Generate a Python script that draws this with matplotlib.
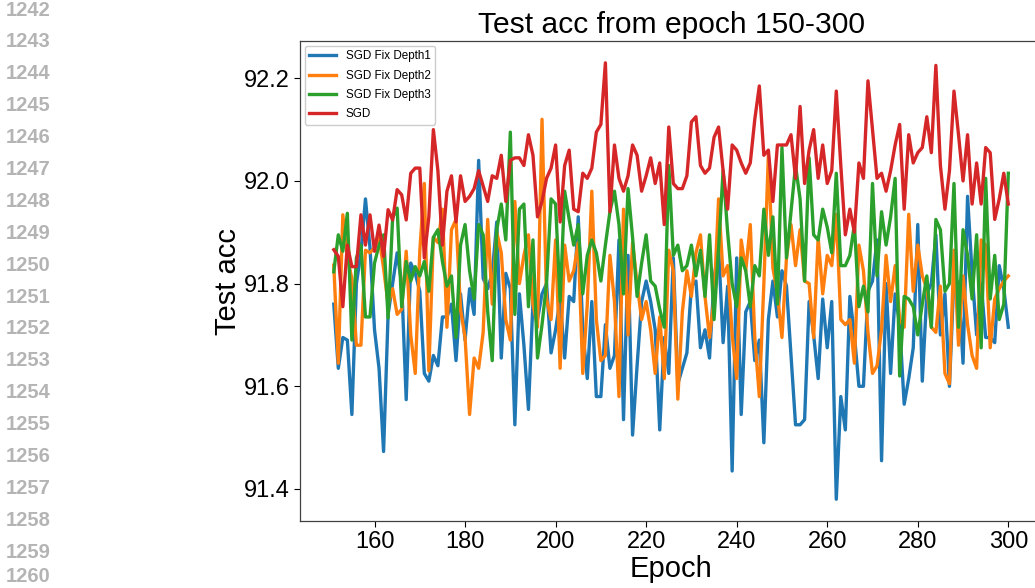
import numpy as np
import matplotlib
matplotlib.use("Agg")
import matplotlib.pyplot as plt

plt.rcParams['font.family'] = ['Liberation Sans', 'DejaVu Sans']

# ▶️ data: epochs 151-300
epochs = np.arange(151, 301)

depth1 = [
    91.76, 91.635, 91.695, 91.69, 91.545, 91.80, 91.86, 91.965, 91.87, 91.71,
    91.635, 91.473, 91.74, 91.80, 91.86, 91.80, 91.574, 91.84, 91.82, 91.785,
    91.625, 91.61, 91.66, 91.64, 91.735, 91.735, 91.76, 91.65, 91.78, 91.69,
    91.79, 91.74, 92.04, 91.81, 91.79, 91.82, 91.92, 91.655, 91.82, 91.79,
    91.525, 91.78, 91.68, 91.555, 91.765, 91.73, 91.78, 91.80, 91.665, 91.71,
    91.77, 91.655, 91.775, 91.765, 91.93, 91.71, 91.615, 91.765, 91.58, 91.58,
    91.72, 91.635, 91.66, 91.885, 91.535, 91.855, 91.505, 91.64, 91.765, 91.805,
    91.765, 91.71, 91.515, 91.695, 91.625, 91.85, 91.605, 91.635, 91.665, 91.795,
    91.805, 91.675, 91.71, 91.655, 91.81, 91.87, 91.685, 91.795, 91.435, 91.85,
    91.545, 91.745, 91.765, 91.65, 91.69, 91.49, 91.73, 91.805, 91.735, 91.825,
    91.795, 91.66, 91.525, 91.525, 91.535, 91.765, 91.70, 91.615, 91.77, 91.675,
    91.765, 91.38, 91.58, 91.515, 91.775, 91.70, 91.60, 91.60, 91.785, 91.805,
    91.885, 91.455, 91.80, 91.625, 91.78, 91.72, 91.565, 91.615, 91.675, 91.915,
    91.61, 91.78, 91.80, 91.895, 91.70, 91.78, 91.60, 91.815, 91.80, 91.645,
    91.97, 91.82, 91.70, 91.80, 91.695, 91.695, 91.685, 91.835, 91.79, 91.715,
]

depth2 = [
    91.836, 91.645, 91.934, 91.85, 91.81, 91.68, 91.68, 91.865, 91.86, 91.87,
    91.89, 91.83, 91.76, 91.79, 91.74, 91.75, 91.863, 91.70, 91.625, 91.863,
    91.995, 91.63, 91.89, 91.88, 91.945, 91.715, 91.905, 91.925, 91.75, 91.695,
    91.545, 91.655, 91.635, 91.705, 91.925, 91.76, 91.90, 91.86, 91.73, 91.69,
    91.96, 91.80, 91.855, 91.895, 91.76, 91.715, 92.12, 91.77, 91.73, 91.885,
    91.635, 91.875, 91.805, 91.825, 91.88, 91.625, 91.76, 91.98, 91.73, 91.65,
    91.66, 91.855, 91.765, 91.58, 91.945, 91.70, 91.88, 91.80, 91.73, 91.765,
    91.71, 91.625, 91.735, 91.615, 91.865, 91.825, 91.575, 91.745, 91.825, 91.775,
    91.86, 91.895, 91.775, 91.695, 91.77, 91.965, 91.815, 91.835, 91.70, 91.615,
    91.885, 91.825, 91.915, 91.695, 91.58, 91.80, 92.05, 91.83, 91.78, 91.695,
    91.85, 91.915, 91.835, 91.905, 91.805, 91.80, 91.695, 91.89, 91.78, 91.855,
    91.835, 91.935, 91.73, 91.72, 91.73, 91.645, 91.875, 91.825, 91.705, 91.625,
    91.64, 91.71, 91.855, 91.765, 91.835, 91.73, 91.715, 91.935, 91.785, 91.875,
    91.815, 91.79, 91.715, 91.705, 91.795, 91.625, 91.605, 91.865, 91.68, 91.815,
    91.72, 91.66, 91.635, 91.885, 91.875, 91.675, 91.77, 91.79, 91.805, 91.815,
]

depth3 = [
    91.823, 91.895, 91.863, 91.937, 91.69, 91.85, 91.875, 91.735, 91.735, 91.84,
    91.875, 91.895, 91.733, 91.928, 91.947, 91.755, 91.843, 91.805, 91.833, 91.815,
    91.843, 91.785, 91.89, 91.905, 91.843, 91.795, 91.815, 91.695, 91.875, 91.915,
    91.825, 91.77, 91.915, 91.895, 91.745, 91.65, 91.905, 91.955, 91.885, 92.095,
    91.74, 91.945, 91.955, 91.755, 91.885, 91.655, 91.72, 91.80, 91.965, 91.955,
    91.765, 91.98, 91.925, 91.875, 91.915, 91.78, 91.855, 91.885, 91.86, 91.805,
    91.875, 91.94, 91.98, 91.915, 91.78, 91.985, 91.89, 91.775, 91.84, 91.895,
    91.805, 91.795, 91.75, 91.715, 92.03, 91.855, 91.875, 91.825, 91.835, 91.875,
    91.815, 91.865, 91.775, 91.895, 91.73, 91.87, 92.02, 91.90, 91.80, 91.755,
    91.85, 91.825, 91.755, 91.835, 91.815, 91.945, 91.855, 91.93, 91.76, 92.065,
    91.85, 91.94, 92.03, 91.965, 91.805, 92.045, 91.895, 91.885, 91.945, 91.91,
    91.86, 92.015, 91.835, 91.835, 91.855, 91.915, 91.755, 91.795, 91.745, 91.995,
    91.815, 91.94, 91.875, 91.93, 92.005, 91.62, 91.775, 91.77, 91.755, 91.70,
    91.76, 91.815, 91.715, 91.925, 91.905, 91.785, 91.80, 91.995, 91.715, 91.905,
    91.855, 91.77, 91.895, 91.675, 92.005, 91.77, 91.855, 91.73, 91.76, 92.015,
]

sgd = [
    91.866, 91.853, 91.755, 91.875, 91.833, 91.833, 91.934, 91.875, 91.934, 91.863,
    91.914, 91.853, 91.944, 91.924, 91.983, 91.973, 91.924, 92.015, 92.025, 92.025,
    91.85, 91.93, 92.10, 92.02, 91.875, 91.98, 92.01, 91.92, 92.01, 91.96,
    91.97, 91.985, 92.02, 91.99, 91.96, 92.01, 92.005, 92.05, 91.96, 92.04,
    92.045, 92.045, 92.03, 92.09, 92.05, 91.93, 91.96, 92.005, 92.025, 92.07,
    91.92, 92.03, 92.06, 91.945, 91.94, 92.015, 92.005, 92.025, 92.095, 92.11,
    92.23, 91.94, 92.07, 92.005, 91.98, 92.01, 92.07, 92.05, 91.98, 92.01,
    92.045, 91.995, 92.035, 91.915, 92.105, 91.995, 91.985, 91.985, 92.01, 92.115,
    92.125, 92.03, 92.015, 92.025, 92.085, 92.105, 92.02, 91.945, 92.07, 92.06,
    92.035, 92.015, 92.035, 92.12, 92.185, 92.05, 92.06, 91.96, 92.07, 92.07,
    92.07, 92.09, 92.005, 92.145, 91.995, 92.06, 92.10, 92.005, 92.07, 91.995,
    92.02, 92.175, 92.03, 91.895, 91.945, 91.90, 92.035, 92.005, 92.195, 92.10,
    92.005, 92.015, 91.98, 92.02, 92.07, 92.11, 91.945, 92.09, 92.035, 92.055,
    92.065, 92.125, 92.055, 92.225, 92.03, 91.945, 92.02, 92.175, 92.09, 92.00,
    92.09, 91.955, 92.035, 91.955, 92.065, 92.055, 91.925, 91.965, 92.015, 91.955,
]

labels = ['SGD Fix Depth1', 'SGD Fix Depth2', 'SGD Fix Depth3', 'SGD']
colors = ['#1f77b4', '#ff7f0e', '#2ca02c', '#d62728']

fig = plt.figure(figsize=(10.35, 5.88), dpi=100)
ax = fig.add_axes([0.2899, 0.1139, 0.7169, 0.8163])

for ys, lab, c in zip([depth1, depth2, depth3, sgd], labels, colors):
    ax.plot(epochs, ys, color=c, lw=2.4, label=lab)

ax.set_title('Test acc from epoch 150-300', fontsize=21.6)
ax.set_xlabel('Epoch', fontsize=21, labelpad=1)
ax.set_ylabel('Test acc', fontsize=21, labelpad=1.5)
ax.set_xticks([160, 180, 200, 220, 240, 260, 280, 300])
ax.set_yticks([91.4, 91.6, 91.8, 92.0, 92.2])
ax.tick_params(labelsize=17, length=4, width=0.8)
for s in ax.spines.values():
    s.set_color('#404040')
    s.set_linewidth(0.9)

ax.legend(loc='upper left', fontsize=8.4, handlelength=2.3, borderaxespad=0.4,
          labelspacing=0.62, framealpha=1, edgecolor='#cccccc')

# ▶️ line numbers of the page (screenshot margin)
for i, n in enumerate(range(1242, 1261)):
    yc = min(10 + 31.9 * i, 577)
    fig.text(0.006, 1 - yc / 588, str(n), fontsize=14.5,
             fontweight='bold', color='#b4b4b4', va='center', ha='left')

fig.savefig('out.png', dpi=100)
